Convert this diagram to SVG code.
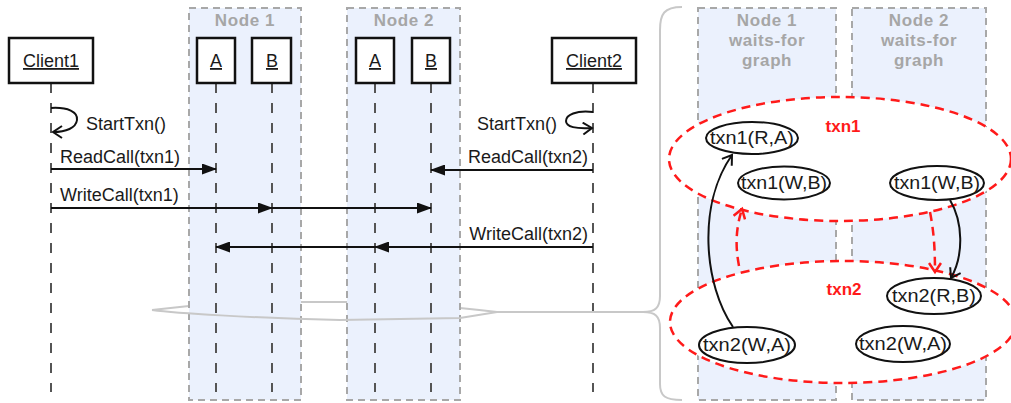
<svg xmlns="http://www.w3.org/2000/svg" width="1011" height="403" viewBox="0 0 1011 403">
<style>
.t{font-family:"Liberation Sans",Arial,sans-serif;font-size:18px;fill:#1a1a1a}
.u{text-decoration:underline}
.nl{font-family:"Liberation Sans",Arial,sans-serif;font-size:17px;font-weight:bold;fill:#a6a6a6;letter-spacing:0.6px;text-anchor:middle}
.red{font-family:"Liberation Sans",Arial,sans-serif;font-size:17px;font-weight:bold;fill:#ff1a1a;text-anchor:middle}
.nodebox{fill:#ebf1fd;stroke:#a8a8a8;stroke-width:2;stroke-dasharray:7 5}
.part{fill:#fff;stroke:#111;stroke-width:2.5}
.life{stroke:#555;stroke-width:2;stroke-dasharray:10 10;fill:none}
.msg{stroke:#111;stroke-width:2;fill:none}
.grey{stroke:#c8c8c8;stroke-width:2;fill:none}
.grp{fill:#fff;stroke:#ff1a1a;stroke-width:2.5;stroke-dasharray:9 6}
.wn{fill:#fff;stroke:#111;stroke-width:2}
.wt{font-family:"Liberation Sans",Arial,sans-serif;font-size:18px;fill:#1a1a1a;text-anchor:middle}
.rd{stroke:#ff1a1a;stroke-width:2.5;stroke-dasharray:9 6;fill:none}
</style>
<defs>
<marker id="fa" markerUnits="userSpaceOnUse" markerWidth="15" markerHeight="11" refX="14" refY="5.5" orient="auto"><path d="M0,0 L15,5.5 L0,11 z" fill="#111"/></marker>
<marker id="oa" markerUnits="userSpaceOnUse" markerWidth="14" markerHeight="14" refX="11" refY="7" orient="auto"><path d="M2,1 L11,7 L2,13" fill="none" stroke="#111" stroke-width="2"/></marker>
<marker id="ra" markerUnits="userSpaceOnUse" markerWidth="14" markerHeight="14" refX="11" refY="7" orient="auto"><path d="M2,1 L11,7 L2,13" fill="none" stroke="#ff1a1a" stroke-width="2.5"/></marker>
</defs>
<rect width="1011" height="403" fill="#fff"/>

<g id="callout-back">
<path class="grey" d="M152,310 L189,306 L301,302 L347,302 L460,308 Q480,310 497,312"/>
</g>

<g id="node1">
<rect class="nodebox" x="189" y="8" width="112" height="392"/>
<text class="nl" x="245" y="26">Node 1</text>
</g>
<g id="node2">
<rect class="nodebox" x="347" y="8" width="113" height="392"/>
<text class="nl" x="404" y="26">Node 2</text>
</g>

<g id="lifelines">
<line class="life" x1="51" y1="83" x2="51" y2="392"/>
<line class="life" x1="216" y1="83" x2="216" y2="392"/>
<line class="life" x1="272" y1="83" x2="272" y2="392"/>
<line class="life" x1="375" y1="83" x2="375" y2="392"/>
<line class="life" x1="431" y1="83" x2="431" y2="392"/>
<line class="life" x1="593" y1="83" x2="593" y2="392"/>
</g>

<g id="client1">
<rect class="part" x="9" y="38" width="84" height="45"/>
<text class="t u" x="51" y="67" text-anchor="middle">Client1</text>
</g>
<g id="node1-A">
<rect class="part" x="197" y="38" width="38" height="45"/>
<text class="t u" x="216" y="67" text-anchor="middle">A</text>
</g>
<g id="node1-B">
<rect class="part" x="252" y="38" width="39" height="45"/>
<text class="t u" x="272" y="67" text-anchor="middle">B</text>
</g>
<g id="node2-A">
<rect class="part" x="356" y="38" width="38" height="45"/>
<text class="t u" x="375" y="67" text-anchor="middle">A</text>
</g>
<g id="node2-B">
<rect class="part" x="412" y="38" width="38" height="45"/>
<text class="t u" x="431" y="67" text-anchor="middle">B</text>
</g>
<g id="client2">
<rect class="part" x="552" y="38" width="84" height="45"/>
<text class="t u" x="594" y="67" text-anchor="middle">Client2</text>
</g>

<g id="connectors">
<path class="msg" d="M51,108 C68,107 78,112 77,120 C76,128 66,132 53,132" marker-end="url(#oa)"/>
<text class="t" x="86" y="130">StartTxn()</text>
<path class="msg" d="M593,112 C576,110 566,115 566,121 C566,127 576,129 592,128" marker-end="url(#oa)"/>
<text class="t" x="557" y="130" text-anchor="end">StartTxn()</text>

<line class="msg" x1="51" y1="169" x2="216" y2="169" marker-end="url(#fa)"/>
<text class="t" x="60" y="163">ReadCall(txn1)</text>

<line class="msg" x1="51" y1="208" x2="272" y2="208" marker-end="url(#fa)"/>
<line class="msg" x1="51" y1="208" x2="431" y2="208" marker-end="url(#fa)"/>
<text class="t" x="60" y="201">WriteCall(txn1)</text>

<line class="msg" x1="593" y1="170" x2="431" y2="170" marker-end="url(#fa)"/>
<text class="t" x="588" y="163" text-anchor="end">ReadCall(txn2)</text>

<line class="msg" x1="593" y1="247" x2="375" y2="247" marker-end="url(#fa)"/>
<line class="msg" x1="593" y1="247" x2="216" y2="247" marker-end="url(#fa)"/>
<text class="t" x="588" y="240" text-anchor="end">WriteCall(txn2)</text>
</g>

<g id="callout-front">
<path class="grey" d="M152,310 C175,313 250,318 340,320 L460,318 L497,312 L643,312"/>
<path class="grey" d="M682,7 C664,7 660,14 660,30 L660,296 C660,308 655,312 643,312 C655,312 660,316 660,328 L660,384 C660,396 665,400 682,400"/>
</g>

<g id="wfg-node1">
<rect class="nodebox" x="698" y="8" width="138" height="392"/>
<text class="nl" x="767" y="26">Node 1</text>
<text class="nl" x="767" y="46">waits-for</text>
<text class="nl" x="767" y="66">graph</text>
</g>
<g id="wfg-node2">
<rect class="nodebox" x="852" y="8" width="134" height="392"/>
<text class="nl" x="919" y="26">Node 2</text>
<text class="nl" x="919" y="46">waits-for</text>
<text class="nl" x="919" y="66">graph</text>
</g>

<g id="txn1-group">
<ellipse class="grp" cx="840" cy="159" rx="171" ry="62"/>
<text class="red" x="843" y="132">txn1</text>
</g>
<g id="txn2-group">
<ellipse class="grp" cx="843" cy="322" rx="173" ry="61"/>
<text class="red" x="844" y="295">txn2</text>
</g>

<g id="w-txn1-RA">
<ellipse class="wn" cx="752" cy="138" rx="46" ry="16"/>
<text class="wt" x="752" y="144" textLength="84" lengthAdjust="spacingAndGlyphs">txn1(R,A)</text>
</g>
<g id="w-txn1-WB-1">
<ellipse class="wn" cx="784" cy="183" rx="46" ry="16.5"/>
<text class="wt" x="784" y="189" textLength="86" lengthAdjust="spacingAndGlyphs">txn1(W,B)</text>
</g>
<g id="w-txn1-WB-2">
<ellipse class="wn" cx="937" cy="183" rx="47" ry="17"/>
<text class="wt" x="937" y="189" textLength="86" lengthAdjust="spacingAndGlyphs">txn1(W,B)</text>
</g>
<g id="w-txn2-RB">
<ellipse class="wn" cx="934" cy="296" rx="47" ry="18"/>
<text class="wt" x="934" y="302" textLength="84" lengthAdjust="spacingAndGlyphs">txn2(R,B)</text>
</g>
<g id="w-txn2-WA-1">
<ellipse class="wn" cx="747" cy="345" rx="48" ry="18"/>
<text class="wt" x="747" y="351" textLength="88" lengthAdjust="spacingAndGlyphs">txn2(W,A)</text>
</g>
<g id="w-txn2-WA-2">
<ellipse class="wn" cx="903" cy="344" rx="47" ry="18"/>
<text class="wt" x="903" y="350" textLength="88" lengthAdjust="spacingAndGlyphs">txn2(W,A)</text>
</g>

<g id="wfg-edges">
<path class="msg" d="M733,327 C704,285 697,205 732,155" marker-end="url(#oa)"/>
<path class="msg" d="M950,200 C963,222 964,255 951,278" marker-end="url(#oa)"/>
<path class="rd" d="M739,266 C735,245 736,228 742,209" marker-end="url(#ra)"/>
<path class="rd" d="M930,212 C934,232 935,250 935,272" marker-end="url(#ra)"/>
</g>
</svg>
